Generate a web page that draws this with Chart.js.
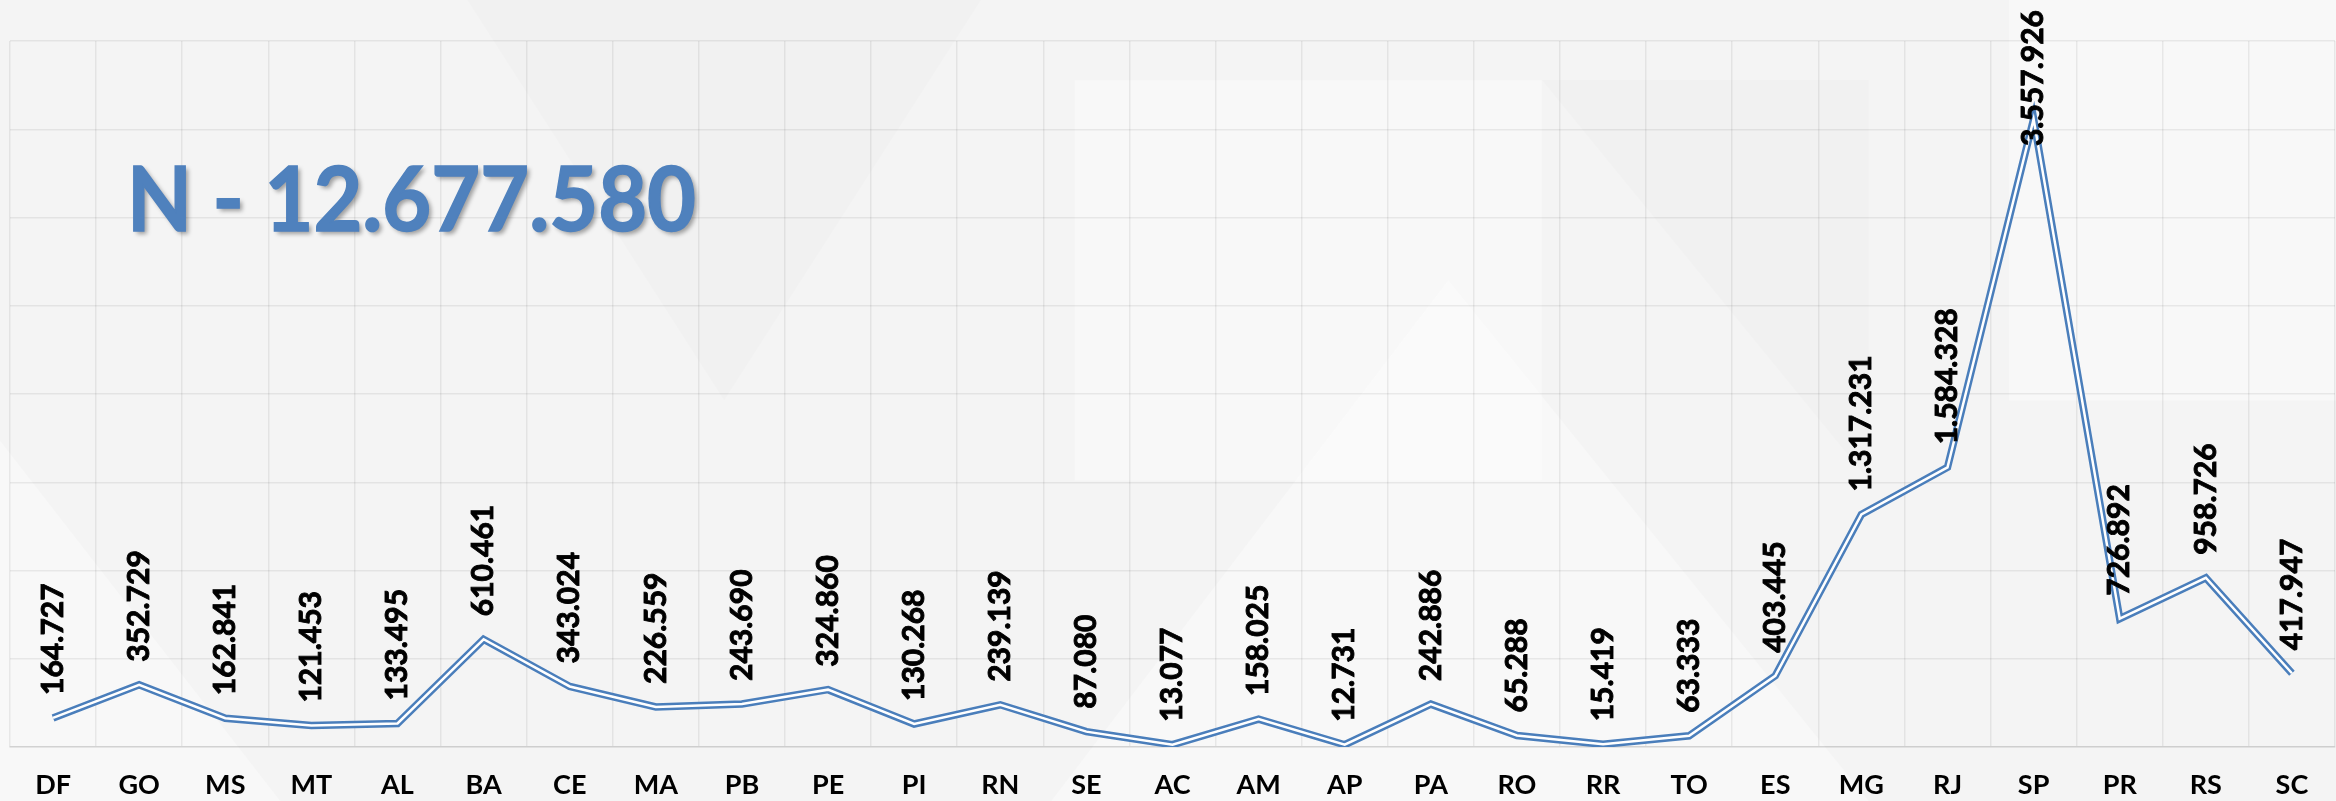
<!DOCTYPE html>
<html>
<head>
<meta charset="utf-8">
<script src="https://cdn.jsdelivr.net/npm/chart.js@4.4.0/dist/chart.umd.min.js"></script>
<style>
  html, body { margin: 0; padding: 0; background: #f4f4f4; }
  #wrap { width: 2336px; height: 801px; position: relative; }
</style>
</head>
<body>
<div id="wrap"><canvas id="chart"></canvas></div>
<script>
// chart data
const states = ['DF', 'GO', 'MS', 'MT', 'AL', 'BA', 'CE', 'MA', 'PB', 'PE', 'PI', 'RN', 'SE',
    'AC', 'AM', 'AP', 'PA', 'RO', 'RR', 'TO', 'ES', 'MG', 'RJ', 'SP', 'PR', 'RS', 'SC'];
const counts = [164727, 352729, 162841, 121453, 133495, 610461, 343024, 226559, 243690, 324860,
    130268, 239139, 87080, 13077, 158025, 12731, 242886, 65288, 15419, 63333,
    403445, 1317231, 1584328, 3557926, 726892, 958726, 417947];
const yMax = 4000000;
const yStep = 500000;

const blue = '#4a7ebb';
const fontFamily = 'Lato, "Open Sans", sans-serif';

// 1234567 -> 1.234.567
const fmt = (v) => String(v).replace(/\B(?=(\d{3})+(?!\d))/g, '.');
const total = counts.reduce((a, b) => a + b, 0);

const backgroundPlugin = {
    id: 'bg',
    beforeDraw: (chart) => {
        const ctx = chart.ctx;
        const w = chart.width, h = chart.height;
        ctx.save();
        ctx.fillStyle = '#f4f4f4';
        ctx.fillRect(0, 0, w, h);
        // soft geometric shading, kept faint
        ctx.fillStyle = 'rgba(255,255,255,0.35)';
        ctx.beginPath();
        ctx.moveTo(0, h * 0.55); ctx.lineTo(w * 0.12, h); ctx.lineTo(0, h); ctx.closePath();
        ctx.fill();
        ctx.fillRect(w * 0.46, h * 0.1, w * 0.2, h * 0.5);
        ctx.beginPath();
        ctx.moveTo(w * 0.45, h); ctx.lineTo(w * 0.62, h * 0.35); ctx.lineTo(w * 0.8, h); ctx.closePath();
        ctx.fill();
        ctx.fillRect(w * 0.86, 0, w * 0.14, h * 0.5);
        ctx.fillStyle = 'rgba(0,0,0,0.012)';
        ctx.beginPath();
        ctx.moveTo(w * 0.2, 0); ctx.lineTo(w * 0.42, 0); ctx.lineTo(w * 0.31, h * 0.5); ctx.closePath();
        ctx.fill();
        ctx.beginPath();
        ctx.moveTo(w * 0.66, h * 0.1); ctx.lineTo(w * 0.8, h * 0.1); ctx.lineTo(w * 0.8, h * 0.6); ctx.closePath();
        ctx.fill();
        ctx.restore();
    }
};

const titlePlugin = {
    id: 'bigTitle',
    afterDraw: (chart) => {
        const ctx = chart.ctx;
        const text = 'N - ' + fmt(total);
        ctx.save();
        ctx.font = 'bold 90px ' + fontFamily;
        const wText = ctx.measureText(text).width;
        ctx.translate(127, 231);
        ctx.scale(569 / wText, 1);
        ctx.shadowColor = 'rgba(0,0,0,0.35)';
        ctx.shadowOffsetX = 3;
        ctx.shadowOffsetY = 3;
        ctx.shadowBlur = 4;
        ctx.fillStyle = '#4f81bd';
        ctx.textBaseline = 'alphabetic';
        ctx.textAlign = 'left';
        ctx.fillText(text, 0, 0);
        ctx.shadowColor = 'transparent';
        ctx.strokeStyle = '#4f81bd';
        ctx.lineWidth = 1.5;
        ctx.strokeText(text, 0, 0);
        ctx.restore();
    }
};

const valueLabels = {
    id: 'valueLabels',
    afterDatasetsDraw: (chart) => {
        const ctx = chart.ctx;
        const meta = chart.getDatasetMeta(1);
        ctx.save();
        ctx.font = 'bold 30px ' + fontFamily;
        ctx.fillStyle = '#000';
        ctx.strokeStyle = '#000';
        ctx.lineWidth = 0.9;
        ctx.textAlign = 'left';
        ctx.textBaseline = 'middle';
        meta.data.forEach((pt, i) => {
            const label = fmt(counts[i]);
            const tw = ctx.measureText(label).width;
            let start = pt.y - 23;
            if (start - tw < 10) start = 10 + tw;
            ctx.save();
            ctx.translate(pt.x, start);
            ctx.rotate(-Math.PI / 2);
            ctx.fillText(label, 0, 0);
            ctx.strokeText(label, 0, 0);
            ctx.restore();
        });
        ctx.restore();
    }
};

const ctx = document.getElementById('chart').getContext('2d');
const chart = new Chart(ctx, {
    type: 'line',
    data: {
        labels: states,
        datasets: [
            {
                // white core of the double line
                data: counts,
                borderColor: '#ffffff',
                borderWidth: 2.5,
                pointRadius: 0,
                tension: 0,
                order: 0
            },
            {
                data: counts,
                borderColor: blue,
                borderWidth: 7.5,
                pointRadius: 0,
                tension: 0,
                order: 1
            }
        ]
    },
    options: {
        responsive: true,
        maintainAspectRatio: false,
        animation: false,
        layout: { padding: { top: 41, left: 10, right: 1, bottom: 0 } },
        plugins: {
            legend: { display: false },
            tooltip: { enabled: false }
        },
        scales: {
            x: {
                offset: true,
                afterFit: (s) => { s.height = 54; },
                grid: { offset: true, color: 'rgba(0,0,0,0.065)', lineWidth: 1.5, drawTicks: false },
                border: { display: true, color: 'rgba(0,0,0,0.09)', width: 1.5 },
                ticks: {
                    color: '#000',
                    padding: 22,
                    maxRotation: 0,
                    autoSkip: false,
                    font: { family: fontFamily, weight: 'bold', size: 27, lineHeight: 1.2 }
                }
            },
            y: {
                min: 0,
                max: yMax,
                grid: { color: 'rgba(0,0,0,0.065)', lineWidth: 1.5, drawTicks: false },
                border: { display: false },
                ticks: { display: false, stepSize: yStep }
            }
        }
    },
    plugins: [backgroundPlugin, valueLabels, titlePlugin]
});
</script>
</body>
</html>
